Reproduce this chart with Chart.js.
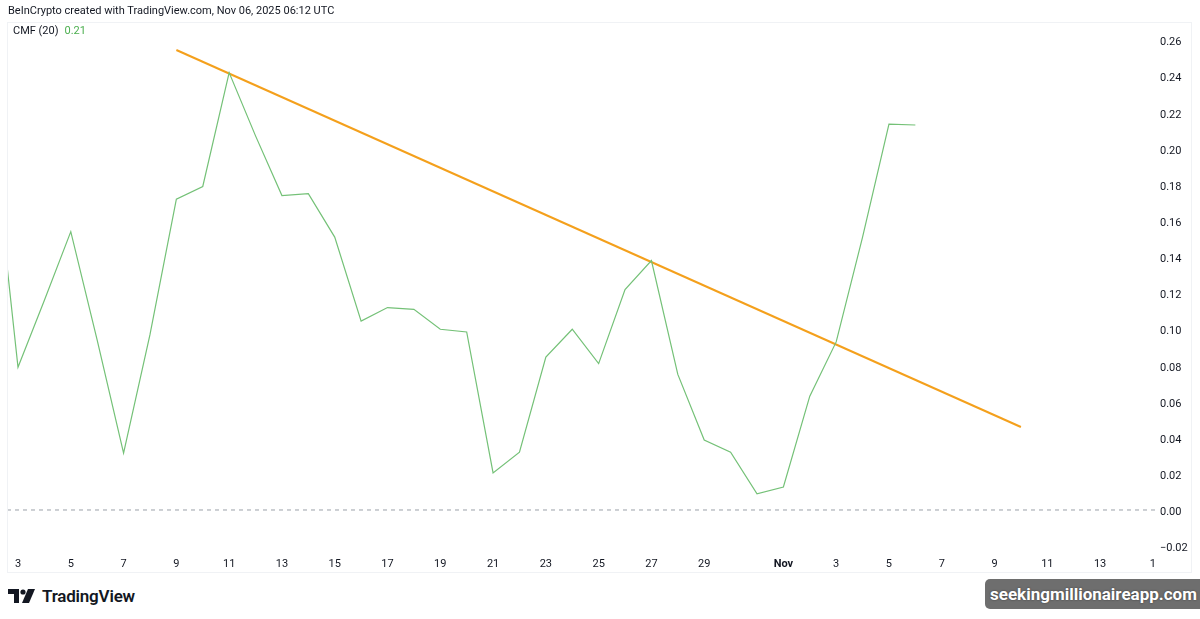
<!DOCTYPE html>
<html>
<head>
<meta charset="utf-8">
<script src="https://cdn.jsdelivr.net/npm/chart.js@4.4.1/dist/chart.umd.min.js"></script>
<style>
    html, body { margin: 0; padding: 0; background: #fff; }
    body { width: 1200px; height: 619px; position: relative; overflow: hidden;
           font-family: Roboto, "Noto Sans", "DejaVu Sans", sans-serif; color: #131722; }
    #wrap { position: absolute; left: 0; top: 0; width: 1200px; height: 575px; }
    #frame { position: absolute; left: 7px; top: 22px; width: 1185px; height: 551px;
             border: 1px solid #f0f2f5; box-sizing: border-box; pointer-events: none; }
    #header { position: absolute; left: 8px; top: 4px; font-size: 11px; }
    #legend { position: absolute; left: 13px; top: 24px; font-size: 11px; }
    #legend .val { color: #4caf50; margin-left: 6px; }
    #brand { position: absolute; left: 8px; top: 586px; font-size: 17px; font-weight: 600;
             display: flex; align-items: center; letter-spacing: -0.2px; }
    #brand svg { margin-right: 6px; }
    #mark { position: absolute; left: 985px; top: 579px; width: 225px; height: 30px;
            background: #6e6e6e; border-radius: 5px; color: #fff; font-weight: 700;
            font-size: 17px; line-height: 30px; padding-left: 5px; box-sizing: border-box;
            text-shadow: 0 0 2px rgba(0,0,0,0.5); }
</style>
</head>
<body>
<div id="wrap"><canvas id="c" width="1200" height="575"></canvas></div>
<div id="frame"></div>
<div id="header">BeInCrypto created with TradingView.com, Nov 06, 2025 06:12 UTC</div>
<div id="legend">CMF (20)<span class="val">0.21</span></div>
<div id="brand">
    <svg width="28" height="14" viewBox="0 0 28 14">
        <path d="M0 0h11v14h-5v-9h-6z" fill="#131722"/>
        <circle cx="15" cy="3" r="2.6" fill="#131722"/>
        <path d="M20 0h7l-6 14h-7z" fill="#131722"/>
    </svg>TradingView</div>
<div id="mark">seekingmillionaireapp.com</div>
<script>
// day index: 0 = Oct 1, 31 = Nov 1
const cmfDays = [1, 2, 3, 4, 5, 6, 7, 8, 9, 10, 11, 12, 13, 14, 15, 16, 17, 18, 19, 20,
                 21, 22, 23, 24, 25, 26, 27, 28, 29, 30, 31, 32, 33, 34, 35, 36];
const cmfValues = [0.214, 0.079, 0.116, 0.154, 0.094, 0.0315, 0.097, 0.172, 0.179, 0.242,
                   0.207, 0.174, 0.175, 0.151, 0.1045, 0.112, 0.111, 0.100, 0.0985, 0.0205,
                   0.032, 0.0846, 0.100, 0.081, 0.122, 0.138, 0.075, 0.0387, 0.032, 0.0089,
                   0.0127, 0.063, 0.093, 0.151, 0.2135, 0.213];
const trendDays = [8, 40];
const trendValues = [0.2545, 0.0459];
const xMin = 1.583, xMax = 45.08;
const zeroDays = [xMin, xMax];
const zeroValues = [0, 0];
const xTickDays = [2, 4, 6, 8, 10, 12, 14, 16, 18, 20, 22, 24, 26, 28, 31, 33, 35, 37, 39, 41, 43, 45];
const xTickLabels = ['3', '5', '7', '9', '11', '13', '15', '17', '19', '21', '23', '25', '27', '29',
                     'Nov', '3', '5', '7', '9', '11', '13', '1'];
const yTicks = [-0.02, 0, 0.02, 0.04, 0.06, 0.08, 0.10, 0.12, 0.14, 0.16, 0.18, 0.20, 0.22, 0.24, 0.26];

function pts(xs, ys) {
    return xs.map((x, i) => ({x: x, y: ys[i]}));
}

const fontFamily = 'Roboto, "Noto Sans", "DejaVu Sans", sans-serif';

new Chart(document.getElementById('c'), {
    type: 'line',
    data: {
        datasets: [
            {
                data: pts(zeroDays, zeroValues),
                borderColor: '#9aa0a8', borderWidth: 1, borderDash: [4, 4],
                pointRadius: 0, tension: 0
            },
            {
                data: pts(cmfDays, cmfValues),
                borderColor: '#74c177', borderWidth: 1.2,
                pointRadius: 0, tension: 0
            },
            {
                data: pts(trendDays, trendValues),
                borderColor: '#f4a01c', borderWidth: 2,
                pointRadius: 0, tension: 0
            }
        ]
    },
    options: {
        responsive: false,
        animation: false,
        events: [],
        devicePixelRatio: 1,
        layout: { padding: { left: 7, top: 22, right: 0, bottom: 2 } },
        plugins: { legend: { display: false }, tooltip: { enabled: false } },
        scales: {
            x: {
                type: 'linear', min: xMin, max: xMax,
                grid: { display: false, drawTicks: false },
                border: { display: false },
                afterBuildTicks: s => { s.ticks = xTickDays.map(v => ({value: v})); },
                afterFit: s => { s.height = 20; },
                ticks: {
                    autoSkip: false, maxRotation: 0, padding: 5, color: '#131722',
                    font: ctx => ({ family: fontFamily, size: 11,
                                    weight: xTickLabels[ctx.index] === 'Nov' ? 'bold' : 'normal' }),
                    callback: (v, i) => xTickLabels[i]
                }
            },
            y: {
                position: 'right', min: -0.0238, max: 0.27,
                grid: { display: false, drawTicks: false },
                border: { display: false },
                afterBuildTicks: s => { s.ticks = yTicks.map(v => ({value: v})); },
                afterFit: s => { s.width = 45; },
                ticks: {
                    padding: 5, labelOffset: -3, color: '#131722', align: 'start', crossAlign: 'near',
                    font: { family: fontFamily, size: 11 },
                    callback: v => (v < 0 ? '\u2212' + Math.abs(v).toFixed(2) : v.toFixed(2))
                }
            }
        }
    }
});
</script>
</body>
</html>
